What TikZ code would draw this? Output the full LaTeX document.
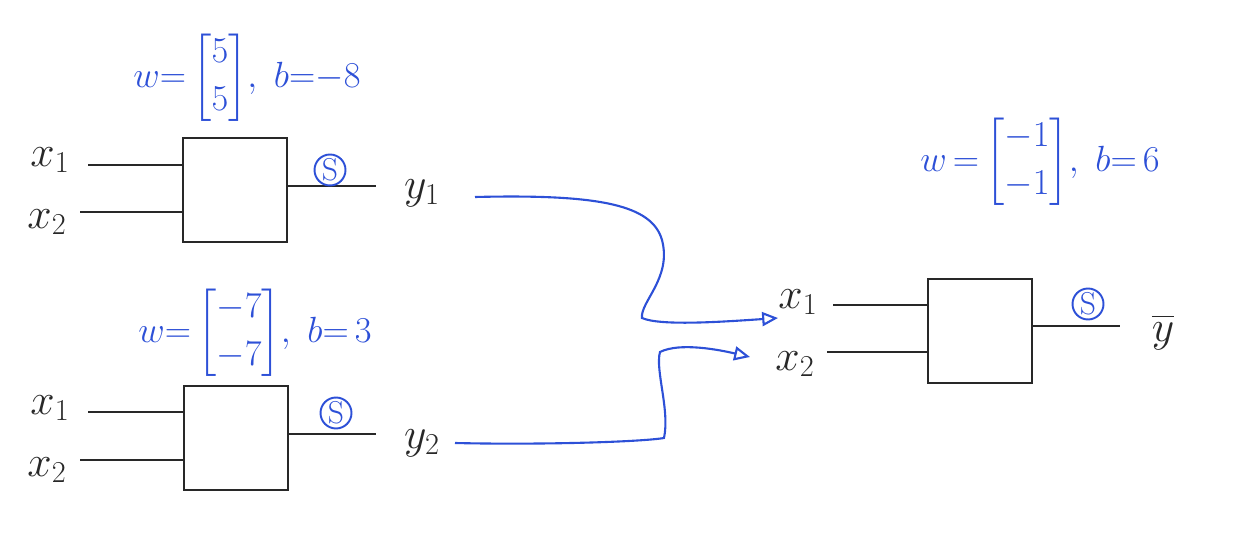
\documentclass[tikz,border=0pt]{standalone}
\usepackage{amsmath}
\usetikzlibrary{arrows.meta}
\definecolor{ink}{RGB}{40,40,40}
\definecolor{pen}{RGB}{45,80,215}
\begin{document}
\begin{tikzpicture}[x=0.02cm,y=-0.02cm,
  unitbox/.style={draw=ink,line width=1.1pt,minimum width=2.08cm,minimum height=2.08cm,inner sep=0pt},
  wire/.style={draw=ink,line width=1.1pt},
  lab/.style={text=ink,font=\fontsize{26}{30}\selectfont,inner sep=0pt},
  wlab/.style={text=pen,font=\fontsize{20}{24}\selectfont,inner sep=0pt},
  sig/.style={draw=pen,text=pen,circle,line width=1.1pt,inner sep=0pt,minimum size=0.62cm,font=\fontsize{18}{20}\selectfont},
  flow/.style={draw=pen,line width=1.2pt,-{Triangle[open,length=9pt,width=8pt]}}]
\useasboundingbox (0,0) rectangle (1255,557);

% unit 1
\node[unitbox] (b1) at (235,190) {};
\coordinate (a11) at (88,165);
\coordinate (a12) at (80,212);
\draw[wire] (a11) -- (a11 -| b1.west);
\draw[wire] (a12) -- (a12 -| b1.west);
\coordinate (o1) at (376,186);
\draw[wire] (o1 -| b1.east) -- (o1);
\node[lab] (x11) at (50,160) {$x_1$};
\node[lab] (x12) at (47,222) {$x_2$};
\node[lab] (y1) at (422,193) {$y_1$};
\node[sig] (s1) at (330,170) {S};
\node[wlab] (w1) at (247,78) {$w{=}\begin{bmatrix}5\\[3pt]5\end{bmatrix}\!,\ b{=}{-8}$};

% unit 2
\node[unitbox] (b2) at (236,438) {};
\coordinate (a21) at (88,412);
\coordinate (a22) at (80,460);
\draw[wire] (a21) -- (a21 -| b2.west);
\draw[wire] (a22) -- (a22 -| b2.west);
\coordinate (o2) at (376,434);
\draw[wire] (o2 -| b2.east) -- (o2);
\node[lab] (x21) at (50,408) {$x_1$};
\node[lab] (x22) at (47,470) {$x_2$};
\node[lab] (y2) at (422,443) {$y_2$};
\node[sig] (s2) at (336,413) {S};
\node[wlab] (w2) at (255,333) {$w{=}\begin{bmatrix}-7\\[3pt]-7\end{bmatrix}\!,\ b{=}\,3$};

% unit 3
\node[unitbox] (b3) at (980,331) {};
\coordinate (a31) at (833,305);
\coordinate (a32) at (827,352);
\draw[wire] (a31) -- (a31 -| b3.west);
\draw[wire] (a32) -- (a32 -| b3.west);
\coordinate (o3) at (1120,326);
\draw[wire] (o3 -| b3.east) -- (o3);
\node[lab] (x31) at (798,302) {$x_1$};
\node[lab] (x32) at (795,364) {$x_2$};
\node[lab] (yb) at (1163,332) {$\overline{y}$};
\node[sig] (s3) at (1088,304) {S};
\node[wlab] (w3) at (1040,162) {$w\,{=}\begin{bmatrix}-1\\[3pt]-1\end{bmatrix}\!,\ b{=}\,6$};

% connections
\coordinate (c1) at (475,197);
\coordinate (c2) at (455,443);
\coordinate (t1) at (778,318);
\coordinate (t2) at (750,357);
\draw[flow] (c1) .. controls (600,194) and (652,205) .. (662,240)
  .. controls (672,278) and (640,302) .. (642,318)
  .. controls (660,326) and (720,322) .. (t1);
\draw[flow] (c2) .. controls (540,445) and (640,442) .. (664,438)
  .. controls (670,410) and (655,370) .. (660,352)
  .. controls (680,342) and (720,350) .. (t2);
\end{tikzpicture}
\end{document}
